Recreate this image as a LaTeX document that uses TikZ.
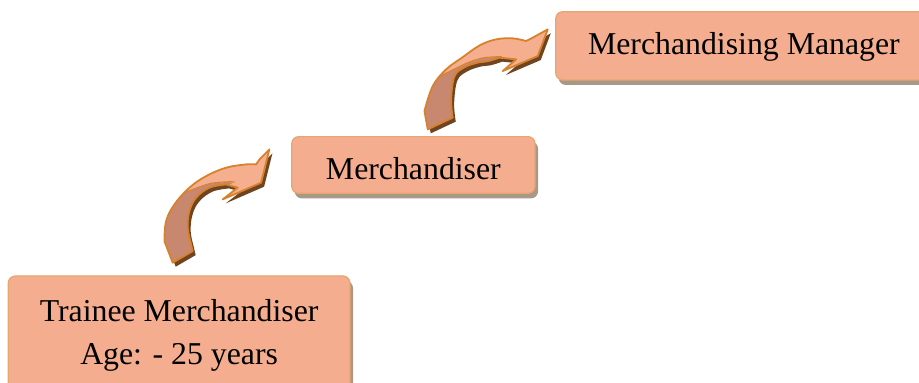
\documentclass[tikz,border=0pt]{standalone}
\usepackage{fontspec}
\setmainfont{Liberation Serif}
\usetikzlibrary{shadows}
\definecolor{boxfill}{HTML}{F5AD8F}
\definecolor{boxline}{HTML}{E6A66E}
\definecolor{boxshade}{HTML}{A89888}
\definecolor{arrowlight}{HTML}{F5AE8E}
\definecolor{arrowdark}{HTML}{C88870}
\definecolor{arrowline}{HTML}{D8812C}
\definecolor{arrowshade}{HTML}{6E4520}

\newcommand\arrowApath{(0,0) -- plot[smooth,tension=0.6] coordinates {(-8.3,21.6) (-6.6,41.6) (1.7,58.3) (16.7,75) (33.4,86.6) (53.4,95) (73.4,98.3) (83.4,98.3)} -- (86.7,103.3) -- (96.7,113.3) -- (88.4,80) -- (50,63.3) -- (65,75) -- plot[smooth,tension=0.6] coordinates {(53.4,78.3) (36.7,75) (23.4,65) (16.7,51.6) (15,35) (18.4,18.3) (20,11.6)} -- cycle}
\newcommand\arrowBpath{(0,0) -- plot[smooth,tension=0.6] coordinates {(-3.3,18.3) (5,43.3) (18.4,60) (34.7,72) (52,84) (68.4,90) (85,91) (98.4,88.3)} -- (105,91.7) -- (120,100) -- (110,73.3) -- (75,58.3) -- (88.4,70) -- plot[smooth,tension=0.6] coordinates {(71.7,71.7) (59.7,68) (49.7,66.7) (36.7,62) (26.7,53) (23.4,30) (25,11.7)} -- cycle}

\tikzset{
  stepbox/.style={draw=boxline, line width=1.2pt, fill=boxfill, rounded corners=7pt,
    inner sep=0pt, font=\fontsize{31.8}{43.3}\selectfont,
    drop shadow={shadow xshift=3pt, shadow yshift=-5pt, fill=boxshade, opacity=1}},
  arrowedge/.style={draw=arrowline, line width=1.8pt, line join=round},
  arrowfold/.style={draw=arrowline, line width=1pt},
}

\begin{document}
\begin{tikzpicture}[x=1pt,y=1pt]
\useasboundingbox (0,0) rectangle (919,383);
\clip (0,0) rectangle (919,383);

\node[stepbox, minimum width=341.7pt, minimum height=119pt, text height=10pt, text depth=37.6pt]
  (trainee) at (179.15,47.5) {\vtop{\hsize=341.7pt\centering Trainee Merchandiser\\Age: - 25 years}};
\node[stepbox, minimum width=243.3pt, minimum height=56.7pt, text height=30pt, text depth=1.4pt]
  (merch) at (413.4,218) {Merchandiser};
\node[stepbox, minimum width=376.3pt, minimum height=68.3pt, text height=24pt, text depth=5.7pt]
  (manager) at (743.9,337.15) {Merchandising Manager};

% arrow from trainee to merchandiser
\begin{scope}[shift={([shift={(165,12.7)}]trainee.north west)}]
  \fill[arrowshade, shift={(3,-4)}] \arrowApath;
  \fill[arrowlight] \arrowApath;
  \begin{scope}
    \clip \arrowApath;
    \fill[arrowdark] (-20,-20) -- (-20,60) -- (11.7,70) -- (36.7,79) -- (56.7,81) -- (60,79.5) -- (50,75) -- (35,70) -- (25,55) -- (40,-20) -- cycle;
    \draw[arrowfold] plot[smooth] coordinates {(5,66) (11.7,70) (36.7,79) (56.7,81) (62,80.5)};
  \end{scope}
  \path[arrowedge] \arrowApath;
\end{scope}

% arrow from merchandiser to manager
\begin{scope}[shift={([shift={(136.6,6.7)}]merch.north west)}]
  \fill[arrowshade, shift={(3,-4)}] \arrowBpath;
  \fill[arrowlight] \arrowBpath;
  \begin{scope}
    \clip \arrowBpath;
    \fill[arrowdark] (-20,-20) -- (-20,48) -- (12,53) -- (40,66.7) -- (56.7,71.7) -- (72,72.5) -- (72,-20) -- cycle;
    \draw[arrowfold] plot[smooth] coordinates {(8,51) (12,53) (40,66.7) (56.7,71.7) (74,72.8)};
  \end{scope}
  \path[arrowedge] \arrowBpath;
\end{scope}
\end{tikzpicture}
\end{document}
